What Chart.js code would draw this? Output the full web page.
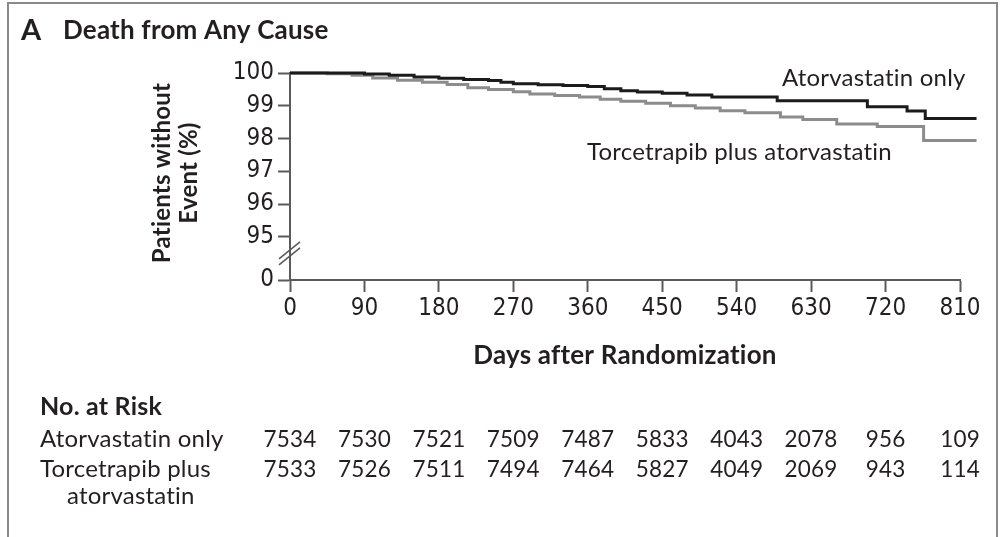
<!DOCTYPE html>
<html>
<head>
<meta charset="utf-8">
<script src="https://cdn.jsdelivr.net/npm/chart.js@4.4.1/dist/chart.umd.min.js"></script>
<style>
  html, body { margin: 0; padding: 0; background: #fff; }
  canvas { display: block; }
</style>
</head>
<body>
<canvas id="km" width="1001" height="537"></canvas>
<script>
// Kaplan-Meier survival, death from any cause (days after randomization, % without event)
const atorvaDays   = [0, 60, 90, 120, 150, 180, 210, 240, 255, 270, 300, 330, 360, 380, 400, 420, 450, 480, 510, 589, 698, 746, 768, 830];
const atorvaValues = [100, 100, 99.97, 99.93, 99.88, 99.84, 99.80, 99.77, 99.72, 99.67, 99.64, 99.62, 99.59, 99.52, 99.46, 99.42, 99.38, 99.33, 99.27, 99.15, 98.97, 98.84, 98.61, 98.61];

const torceDays    = [0, 45, 75, 100, 130, 160, 190, 215, 240, 270, 290, 320, 350, 375, 400, 430, 460, 490, 520, 550, 593, 620, 661, 710, 766, 830];
const torceValues  = [100, 99.98, 99.93, 99.85, 99.78, 99.72, 99.65, 99.55, 99.50, 99.43, 99.36, 99.31, 99.27, 99.20, 99.14, 99.08, 99.00, 98.93, 98.85, 98.79, 98.66, 98.58, 98.44, 98.37, 97.94, 97.94];

// axis ticks
const xTicks = [0, 90, 180, 270, 360, 450, 540, 630, 720, 810];
const yTicks = [93.68, 95, 96, 97, 98, 99, 100];        // lowest tick sits below the axis break
const yTickLabels = ['0', '95', '96', '97', '98', '99', '100'];
const yBreakMark = 94.48;

// number at risk table
const riskDays   = [0, 90, 180, 270, 360, 450, 540, 630, 720, 810];
const riskAtorva = [7534, 7530, 7521, 7509, 7487, 5833, 4043, 2078, 956, 109];
const riskTorce  = [7533, 7526, 7511, 7494, 7464, 5827, 4049, 2069, 943, 114];

const seriesNames = ['Atorvastatin only', 'Torcetrapib plus atorvastatin'];

const TEXT = '#231f20';
const AXIS = '#5a5a5a';
const SANS = "Lato, 'Open Sans', sans-serif";
const NARROW = "'Liberation Sans Narrow', 'DejaVu Sans Condensed', Lato, sans-serif";

const toXY = (xs, ys) => xs.map((x, i) => ({ x, y: ys[i] }));

const extras = {
  id: 'extras',
  afterDraw(chart) {
    const { ctx, scales: { x, y } } = chart;
    ctx.save();
    ctx.fillStyle = TEXT;
    ctx.textBaseline = 'alphabetic';
    ctx.letterSpacing = '0.2px';

    // panel title
    ctx.textAlign = 'left';
    ctx.font = `bold 29px ${SANS}`;
    ctx.fillText('A', 21, 40);
    ctx.font = `bold 26px ${SANS}`;
    ctx.fillText('Death from Any Cause', 63, 39);

    // y axis title (two lines, rotated)
    ctx.save();
    ctx.translate(174, 173);
    ctx.rotate(-Math.PI / 2);
    ctx.textAlign = 'center';
    ctx.font = `bold 24px ${SANS}`;
    ctx.fillText('Patients without', 0, -4);
    ctx.fillText('Event (%)', 0, 23);
    ctx.restore();

    // x axis title
    ctx.textAlign = 'center';
    ctx.font = `bold 26px ${SANS}`;
    ctx.fillText('Days after Randomization', 625, 364);

    // curve labels
    ctx.textAlign = 'left';
    ctx.font = `24px ${SANS}`;
    ctx.fillText(seriesNames[0], 782, 86);
    ctx.fillText('Torcetrapib plus atorvastatin', 587, 160);

    // axis break marks
    const bx = x.getPixelForValue(0);
    const by = y.getPixelForValue(yBreakMark);
    ctx.strokeStyle = AXIS;
    ctx.lineWidth = 1.6;
    [-3, 3].forEach(off => {
      ctx.beginPath();
      ctx.moveTo(bx - 11, by + 8 + off);
      ctx.lineTo(bx + 10, by - 9 + off);
      ctx.stroke();
    });

    // number at risk
    ctx.font = `bold 25px ${SANS}`;
    ctx.fillText('No. at Risk', 40, 415);
    ctx.font = `24px ${SANS}`;
    ctx.fillText('Atorvastatin only', 40, 447);
    ctx.fillText('Torcetrapib plus', 40, 477);
    ctx.fillText('atorvastatin', 67, 504);
    ctx.textAlign = 'center';
    ctx.font = `22.5px ${SANS}`;
    riskDays.forEach((d, i) => {
      const px = x.getPixelForValue(d);
      ctx.fillText(String(riskAtorva[i]), px, 447);
      ctx.fillText(String(riskTorce[i]), px, 477);
    });

    // panel frame
    ctx.strokeStyle = '#8a8a8a';
    ctx.lineWidth = 2;
    ctx.beginPath();
    ctx.moveTo(8, 537);
    ctx.lineTo(8, 3);
    ctx.lineTo(997, 3);
    ctx.lineTo(997, 537);
    ctx.stroke();
    ctx.restore();
  }
};

new Chart(document.getElementById('km'), {
  type: 'line',
  data: {
    datasets: [
      {
        label: seriesNames[0],
        data: toXY(atorvaDays, atorvaValues),
        borderColor: '#1b1b1b',
        borderWidth: 3,
        stepped: 'before',
        pointRadius: 0,
        clip: false
      },
      {
        label: seriesNames[1],
        data: toXY(torceDays, torceValues),
        borderColor: '#8c8c8c',
        borderWidth: 3,
        stepped: 'before',
        pointRadius: 0,
        clip: false
      }
    ]
  },
  options: {
    responsive: false,
    animation: false,
    devicePixelRatio: 1,
    layout: { padding: { left: 0, top: 73, right: 41, bottom: 0 } },
    plugins: { legend: { display: false }, tooltip: { enabled: false } },
    scales: {
      x: {
        type: 'linear',
        min: 0,
        max: 810,
        afterBuildTicks: s => { s.ticks = xTicks.map(v => ({ value: v })); },
        afterFit: s => { s.height = 257; },
        border: { color: AXIS, width: 2 },
        grid: { drawOnChartArea: false, tickLength: 12, tickWidth: 2, color: AXIS },
        ticks: { color: TEXT, padding: 2, maxRotation: 0, font: { family: NARROW, size: 24 } }
      },
      y: {
        type: 'linear',
        min: yTicks[0],
        max: 100,
        afterBuildTicks: s => { s.ticks = yTicks.map(v => ({ value: v })); },
        afterFit: s => { s.width = 290; },
        border: { color: AXIS, width: 2 },
        grid: { drawOnChartArea: false, tickLength: 12, tickWidth: 2, color: AXIS },
        ticks: {
          color: TEXT,
          padding: 4,
          font: { family: NARROW, size: 24 },
          callback: (v, i) => yTickLabels[i]
        }
      }
    }
  },
  plugins: [extras]
});
</script>
</body>
</html>
